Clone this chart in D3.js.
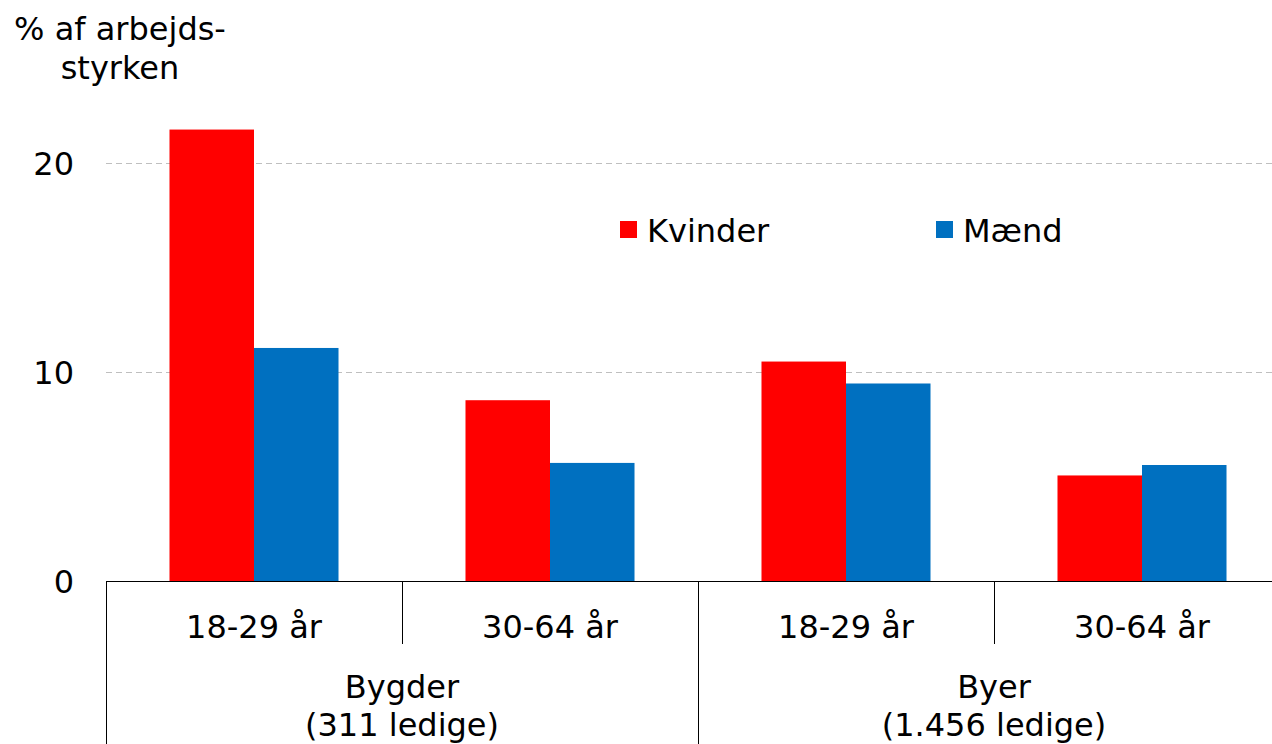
<!DOCTYPE html>
<html>
<head>
<meta charset="utf-8">
<script src="https://cdn.jsdelivr.net/npm/d3@7"></script>
<style>
  body { margin: 0; background: #fff; }
  svg { display: block; font-family: "DejaVu Sans", Verdana, sans-serif; }
  text { fill: #000; }
</style>
</head>
<body>
<svg id="chart" width="1272" height="744"></svg>
<script>
// data
const groups = ['Bygder', 'Byer'];
const groupLines = [['Bygder', '(311 ledige)'], ['Byer', '(1.456 ledige)']];
const ages = ['18-29 år', '30-64 år'];
const series = ['Kvinder', 'Mænd'];
const colors = ['#ff0000', '#0070c0'];
const kvinder = [21.6, 8.65, 10.5, 5.05];
const maend = [11.15, 5.65, 9.45, 5.55];
const yTicks = [0, 10, 20];

const svg = d3.select('#chart');

const left = 106, right = 1290, zeroY = 581, topY = 163;

const cats = [];
groups.forEach((g) => ages.forEach((a) => cats.push(g + '|' + a)));

const x = d3.scaleBand()
  .domain(cats)
  .range([left, right])
  .paddingInner(0.429)
  .paddingOuter(0.2145);

const xs = d3.scaleBand()
  .domain(series)
  .range([0, x.bandwidth()]);

const y = d3.scaleLinear()
  .domain([0, 20])
  .range([zeroY, topY]);

// gridlines
svg.append('g')
  .selectAll('line')
  .data(yTicks.filter((d) => d > 0))
  .enter()
  .append('line')
  .attr('x1', left)
  .attr('x2', 1272)
  .attr('y1', (d) => y(d) + 0.5)
  .attr('y2', (d) => y(d) + 0.5)
  .attr('stroke', '#bfbfbf')
  .attr('stroke-width', 1)
  .attr('stroke-dasharray', '6,4');

// y tick labels
svg.append('g')
  .selectAll('text')
  .data(yTicks)
  .enter()
  .append('text')
  .attr('x', 74)
  .attr('y', (d) => y(d))
  .attr('dy', '0.36em')
  .attr('text-anchor', 'end')
  .style('font-size', '32px')
  .text((d) => d);

// bars
const values = [kvinder, maend];
const barData = [];
cats.forEach((c, i) => {
  series.forEach((s, j) => {
    barData.push({ cat: c, series: s, value: values[j][i], color: colors[j] });
  });
});

svg.append('g')
  .selectAll('rect')
  .data(barData)
  .enter()
  .append('rect')
  .attr('x', (d) => x(d.cat) + xs(d.series))
  .attr('width', xs.bandwidth())
  .attr('y', (d) => y(d.value))
  .attr('height', (d) => y(0) - y(d.value))
  .attr('fill', (d) => d.color);

// axis line
svg.append('line')
  .attr('x1', left)
  .attr('x2', 1272)
  .attr('y1', zeroY + 0.5)
  .attr('y2', zeroY + 0.5)
  .attr('stroke', '#000')
  .attr('stroke-width', 1);

// category separators
const step = x.step();
const sep = svg.append('g');
for (let i = 0; i <= cats.length; i++) {
  const full = i % 2 === 0;
  sep.append('line')
    .attr('x1', left + i * step + 0.5)
    .attr('x2', left + i * step + 0.5)
    .attr('y1', zeroY)
    .attr('y2', full ? 744 : 644)
    .attr('stroke', '#000')
    .attr('stroke-width', 1);
}

// age labels
svg.append('g')
  .selectAll('text')
  .data(cats)
  .enter()
  .append('text')
  .attr('x', (d) => x(d) + x.bandwidth() / 2)
  .attr('y', 626)
  .attr('dy', '0.36em')
  .attr('text-anchor', 'middle')
  .style('font-size', '32px')
  .text((d) => d.split('|')[1]);

// group labels
groupLines.forEach((lines, i) => {
  const cx = left + step * (2 * i + 1);
  lines.forEach((t, k) => {
    svg.append('text')
      .attr('x', cx)
      .attr('y', 686 + k * 38)
      .attr('dy', '0.36em')
      .attr('text-anchor', 'middle')
      .style('font-size', '32px')
      .text(t);
  });
});

// y title
['% af arbejds-', 'styrken'].forEach((t, k) => {
  svg.append('text')
    .attr('x', 120)
    .attr('y', 28 + k * 39)
    .attr('dy', '0.36em')
    .attr('text-anchor', 'middle')
    .style('font-size', '32px')
    .text(t);
});

// legend
const legendX = [620, 936];
const legend = svg.append('g')
  .selectAll('g')
  .data(series)
  .enter()
  .append('g')
  .attr('transform', (d, i) => 'translate(' + legendX[i] + ',221)');

legend.append('rect')
  .attr('width', 17)
  .attr('height', 17)
  .attr('fill', (d, i) => colors[i]);

legend.append('text')
  .attr('x', 27)
  .attr('y', 9)
  .attr('dy', '0.36em')
  .style('font-size', '32px')
  .text((d) => d);
</script>
</body>
</html>
